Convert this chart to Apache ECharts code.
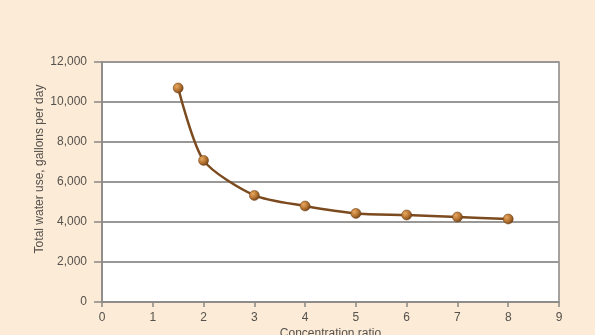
<!DOCTYPE html>
<html>
<head>
<meta charset="utf-8">
<script src="https://cdn.jsdelivr.net/npm/echarts@6/dist/echarts.min.js"></script>
<style>
html,body{margin:0;padding:0;background:#fcebd6;overflow:hidden;}
#c{width:595px;height:335px;}
</style>
</head>
<body>
<div id="c"></div>
<script>
const ratios = [1.5, 2, 3, 4, 5, 6, 7, 8];
const waterUse = [10700, 7080, 5330, 4800, 4430, 4350, 4250, 4150];
const xTitle = 'Concentration ratio';
const yTitle = 'Total water use, gallons per day';

const chart = echarts.init(document.getElementById('c'), null, {renderer: 'canvas'});
const txt = {color: '#55514d', fontFamily: 'Liberation Sans, Arial, sans-serif', fontSize: 12};
chart.setOption({
  backgroundColor: '#fcebd6',
  animation: false,
  grid: {left: 102, right: 36, top: 62, bottom: 33, containLabel: false, outerBoundsMode: 'none',
         show: true, backgroundColor: '#ffffff', borderColor: '#8a8886', borderWidth: 1.5},
  xAxis: {
    type: 'value', min: 0, max: 9, interval: 1,
    name: xTitle, nameLocation: 'middle', nameGap: 26, nameMoveOverlap: false,
    nameTextStyle: txt,
    axisLine: {show: true, lineStyle: {color: '#8a8886', width: 1.5}},
    axisTick: {show: true, length: 5, lineStyle: {color: '#8a8886', width: 1.5}},
    axisLabel: Object.assign({margin: 10}, txt),
    splitLine: {show: false}
  },
  yAxis: {
    type: 'value', min: 0, max: 12000, interval: 2000,
    name: yTitle, nameLocation: 'middle', nameGap: 56, nameMoveOverlap: false,
    nameTextStyle: Object.assign({padding: [0, 0, 0, 26]}, txt),
    axisLine: {show: true, lineStyle: {color: '#8a8886', width: 1.5}},
    axisTick: {show: true, length: 8, lineStyle: {color: '#8a8886', width: 1.5}},
    axisLabel: Object.assign({margin: 15, formatter: v => v.toLocaleString('en-US')}, txt),
    splitLine: {show: true, lineStyle: {color: '#9a9896', width: 2}}
  },
  series: [{
    type: 'line',
    data: ratios.map((x, i) => [x, waterUse[i]]),
    smooth: 0.25,
    symbol: 'circle',
    symbolSize: 10,
    lineStyle: {color: '#7b4a1e', width: 2.5},
    itemStyle: {
      color: new echarts.graphic.RadialGradient(0.35, 0.35, 0.7, [
        {offset: 0, color: '#e9a860'},
        {offset: 0.6, color: '#b0702e'},
        {offset: 1, color: '#6e3f15'}
      ]),
      borderColor: '#6e3f15', borderWidth: 0.5
    }
  }]
});
</script>
</body>
</html>
